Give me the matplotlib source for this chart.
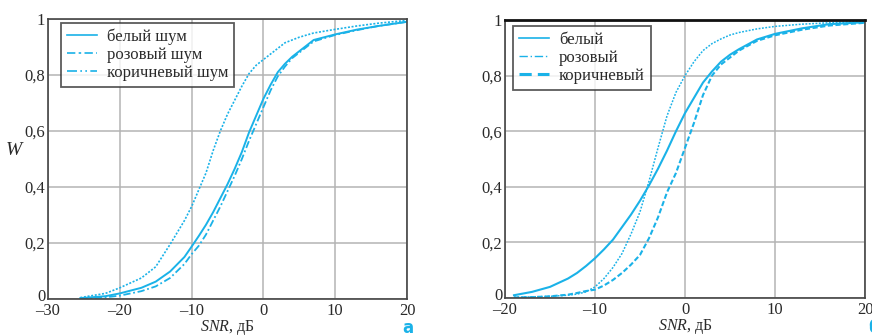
import matplotlib
matplotlib.use("Agg")
import matplotlib.pyplot as plt
import matplotlib.transforms as mtransforms
from matplotlib.lines import Line2D

plt.rcParams['font.family'] = ['Liberation Serif', 'DejaVu Serif']
plt.rcParams['mathtext.fontset'] = 'custom'
plt.rcParams['mathtext.rm'] = 'Liberation Serif'
plt.rcParams['mathtext.it'] = 'Liberation Serif:italic'

# ---------------- data: panel a ----------------
snr_a = [-25.5, -22, -20, -17, -15, -13, -11, -10, -9, -8, -7, -6, -5, -4, -3,
         -2, -1, 0, 1, 2, 3, 4, 5, 7, 10, 13, 16, 20]
white_a = [0.003, 0.01, 0.02, 0.04, 0.062, 0.098, 0.15, 0.187, 0.225, 0.265, 0.31,
           0.36, 0.41, 0.465, 0.525, 0.595, 0.655, 0.715, 0.765, 0.81, 0.84, 0.865,
           0.885, 0.925, 0.945, 0.962, 0.975, 0.99]
pink_a = [0.005, 0.02, 0.04, 0.075, 0.115, 0.195, 0.28, 0.33, 0.39, 0.45, 0.53,
          0.60, 0.66, 0.71, 0.76, 0.805, 0.835, 0.855, 0.875, 0.895, 0.915, 0.925,
          0.935, 0.95, 0.963, 0.975, 0.985, 0.995]
brown_a = [0.002, 0.006, 0.012, 0.028, 0.045, 0.075, 0.125, 0.16, 0.19, 0.23, 0.28,
           0.33, 0.385, 0.44, 0.5, 0.565, 0.625, 0.685, 0.745, 0.795, 0.83, 0.86,
           0.88, 0.92, 0.943, 0.96, 0.975, 0.99]
labels_a = ['белый шум', 'розовый шум', 'коричневый шум']

# ---------------- data: panel б ----------------
snr_b = [-19, -17, -15, -13, -12, -11, -10, -9, -8, -7, -6, -5, -4, -3, -2, -1,
         0, 1, 2, 3, 4, 5, 6, 8, 10, 13, 16, 20]
white_b = [0.01, 0.022, 0.04, 0.07, 0.09, 0.115, 0.143, 0.175, 0.21, 0.255, 0.30,
           0.35, 0.405, 0.465, 0.53, 0.60, 0.665, 0.72, 0.775, 0.815, 0.85, 0.875,
           0.895, 0.93, 0.95, 0.97, 0.985, 0.992]
pink_b = [0.003, 0.004, 0.006, 0.01, 0.014, 0.022, 0.04, 0.07, 0.11, 0.16, 0.23,
          0.31, 0.42, 0.54, 0.655, 0.74, 0.80, 0.85, 0.89, 0.915, 0.932, 0.946,
          0.955, 0.968, 0.977, 0.985, 0.99, 0.995]
brown_b = [0.002, 0.003, 0.006, 0.012, 0.018, 0.025, 0.03, 0.045, 0.065, 0.09, 0.12,
           0.155, 0.215, 0.29, 0.38, 0.45, 0.54, 0.63, 0.73, 0.80, 0.84, 0.865,
           0.89, 0.925, 0.945, 0.965, 0.98, 0.99]
labels_b = ['белый', 'розовый', 'коричневый']

yticks = [0, 0.2, 0.4, 0.6, 0.8, 1]
ytick_labels = ['0', '0,2', '0,4', '0,6', '0,8', '1']
xticks_a = [-30, -20, -10, 0, 10, 20]
xticks_b = [-20, -10, 0, 10, 20]

C = '#1ab2e8'
TXT = '#2a2a2a'

fig = plt.figure(figsize=(8.72, 3.36), dpi=100)
ax1 = fig.add_axes([48/872, 37/336, 359/872, 280/336])
ax2 = fig.add_axes([505/872, 38/336, 360/872, 278/336])


def xlab(v):
    return ('–' + str(abs(v))) if v < 0 else str(v)


def style(ax, xticks, xlim):
    ax.set_xlim(*xlim)
    ax.set_ylim(0, 1)
    ax.set_xticks(xticks)
    ax.set_xticklabels([xlab(v) for v in xticks])
    ax.set_yticks(yticks)
    ax.set_yticklabels(ytick_labels)
    ax.grid(True, color='#b4b4b4', lw=1.1)
    ax.set_axisbelow(True)
    ax.tick_params(length=0, labelsize=12, colors=TXT)
    ax.tick_params(axis='x', pad=3)
    ax.tick_params(axis='y', pad=2)
    for s in ax.spines.values():
        s.set_color('#444444')
        s.set_linewidth(1.2)
    ax.set_xlabel('$\\mathit{SNR}$, дБ', fontsize=11.5, color=TXT, labelpad=-0.5)
    # lift the "0" label a little, as in the original
    lbl = ax.get_yticklabels()[0]
    lbl.set_transform(lbl.get_transform() +
                      mtransforms.ScaledTranslation(0, 3/72, fig.dpi_scale_trans))


def legend(ax, handles, labels, anchor):
    leg = ax.legend(handles, labels, loc='upper left', bbox_to_anchor=anchor,
                    fontsize=12, frameon=True, fancybox=False, handlelength=1.8,
                    borderpad=0.35, labelspacing=0.12, handletextpad=0.6,
                    borderaxespad=0.0)
    leg.get_frame().set_edgecolor('#333333')
    leg.get_frame().set_linewidth(1.3)
    for t in leg.get_texts():
        t.set_color(TXT)
    return leg


# panel a
style(ax1, xticks_a, (-30, 20))
ax1.plot(snr_a, white_a, color=C, lw=1.4, ls='-')
ax1.plot(snr_a, pink_a, color=C, lw=1.2, ls=(0, (1.2, 1.0)))
ax1.plot(snr_a, brown_a, color=C, lw=1.3, ls=(0, (4, 1.5, 1, 1.5)))
h_a = [Line2D([], [], color=C, lw=1.2, ls='-'),
       Line2D([], [], color=C, lw=1.2, ls=(0, (5, 2, 1.5, 2))),
       Line2D([], [], color=C, lw=1.2, ls=(0, (6, 2, 1, 2, 1, 2)))]
legend(ax1, h_a, labels_a, (13/359, 1 - 4/280))
ax1.set_ylabel('W', fontsize=14, style='italic', color=TXT, rotation=0)
ax1.yaxis.set_label_coords(-0.095, 0.5)
fig.text(408/872, 1 - 333/336, 'а', fontsize=12, fontweight='bold', color=C,
         family='DejaVu Sans', ha='center', va='baseline')

# panel б
style(ax2, xticks_b, (-20, 20))
ax2.spines['top'].set_color('#111111')
ax2.spines['top'].set_linewidth(2.0)
ax2.plot(snr_b, white_b, color=C, lw=1.5, ls='-')
ax2.plot(snr_b, pink_b, color=C, lw=1.1, ls=(0, (1.2, 1.0)))
ax2.plot(snr_b, brown_b, color=C, lw=1.5, ls=(0, (2.5, 1.2)))
h_b = [Line2D([], [], color=C, lw=1.2, ls='-'),
       Line2D([], [], color=C, lw=1.0, ls=(0, (6, 2, 1, 2))),
       Line2D([], [], color=C, lw=2.2, ls=(0, (4, 2)))]
legend(ax2, h_b, labels_b, (8/360, 1 - 6/278))
fig.text(874/872, 1 - 333/336, 'б', fontsize=12, fontweight='bold', color=C,
         family='DejaVu Sans', ha='center', va='baseline')

fig.savefig('out.png', dpi=100)
